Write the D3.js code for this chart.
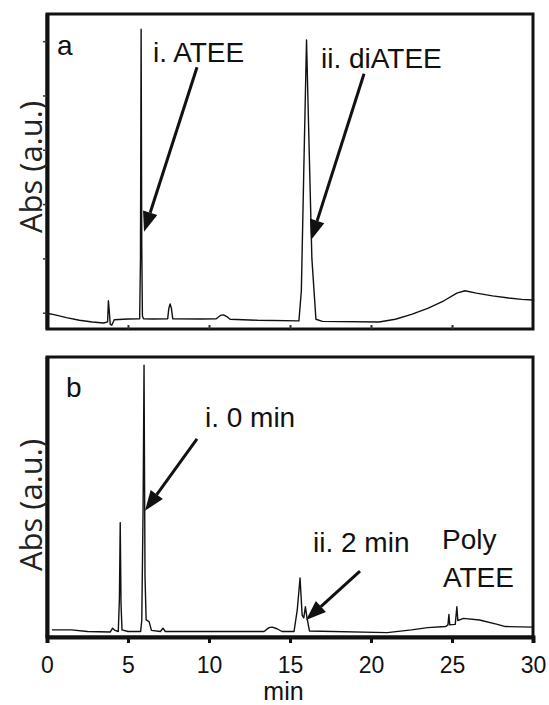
<!DOCTYPE html>
<html><head><meta charset="utf-8">
<script src="https://cdn.jsdelivr.net/npm/d3@7"></script>
<style>body{margin:0;background:#fff}</style>
</head><body>
<svg id="c" width="549" height="705"></svg>
<script>
// ---- data ----
const timeTicks = [0, 5, 10, 15, 20, 25, 30];
const timeTickLabels = ["0", "5", "10", "15", "20", "25", "30"];
const absTicksA = [0, 1, 2, 3, 4, 5];

// panel a trace (min, a.u.)
const traceA_time = [0,0.5,1.2,2.0,2.8,3.5,3.74,3.79,3.84,3.9,4.0,4.15,5.0,5.72,5.77,5.81,5.85,5.89,5.96,6.5,7.45,7.52,7.6,7.68,7.76,9.5,10.45,10.7,10.9,11.1,11.3,13.0,15.55,15.7,15.85,16.02,16.15,16.35,16.6,17.0,20.5,21.5,22.5,23.5,24.5,25.3,25.8,26.5,27.5,28.5,29.3,30];
const traceA_abs  = [-0.01,-0.04,-0.09,-0.14,-0.17,-0.19,-0.17,0.22,0.05,-0.21,-0.23,-0.13,-0.115,-0.11,1.0,5.22,1.2,-0.06,-0.11,-0.115,-0.11,0.08,0.16,0.08,-0.11,-0.115,-0.11,-0.05,-0.04,-0.07,-0.12,-0.14,-0.15,0.4,2.6,5.02,3.4,1.0,-0.12,-0.16,-0.17,-0.12,-0.03,0.08,0.22,0.36,0.405,0.36,0.31,0.27,0.245,0.235];

// panel b trace (min, a.u.)
const traceB_time = [0.3,1.5,2.5,3.9,4.05,4.2,4.4,4.47,4.52,4.57,4.63,5.0,5.78,5.85,5.93,5.99,6.05,6.12,6.3,6.45,7.0,7.16,7.3,13.4,13.7,13.9,14.2,14.5,15.25,15.45,15.62,15.75,15.85,15.95,16.05,16.2,21.0,22.5,23.5,24.6,24.75,24.81,24.86,25.2,25.3,25.36,25.7,26.7,27.8,28.3,30];
const traceB_abs  = [0.03,0.03,0.0,-0.01,0.06,0.02,0.0,0.6,1.98,0.5,0.03,0.0,0.0,0.2,2.2,4.85,1.0,0.21,0.18,0.02,0.0,0.06,0.0,0.0,0.07,0.08,0.05,0.0,0.0,0.4,0.975,0.3,0.25,0.45,0.25,0.01,-0.02,0.03,0.07,0.09,0.12,0.31,0.12,0.13,0.45,0.2,0.24,0.21,0.13,0.09,0.08];

// annotation texts and anchors (min, a.u.)
const labelsA_text = ["a", "i. ATEE", "ii. diATEE"];
const labelsA_t = [0.62, 6.54, 16.91];
const labelsA_v = [4.75, 4.62, 4.51];
const arrowsA = [[9.26, 4.52, 5.99, 1.49], [19.57, 4.40, 16.3, 1.34]];

const labelsB_text = ["b", "i. 0 min", "ii. 2 min", "Poly", "ATEE"];
const labelsB_t = [1.17, 9.75, 16.42, 24.38, 24.44];
const labelsB_v = [4.27, 3.72, 1.45, 1.50, 0.81];
const arrowsB = [[9.26, 3.51, 6.05, 2.2], [19.32, 1.10, 15.99, 0.21]];

// ---- drawing ----
const svg = d3.select("#c");
const x = d3.scaleLinear().domain([0, 30]).range([47, 533]);
const yA = d3.scaleLinear().domain([-0.3, 5.5]).range([329, 14]);
const yB = d3.scaleLinear().domain([-0.1, 5.0]).range([637, 357]);

const annFont = "'Liberation Sans', Arial, sans-serif";
const axFont = "'Open Sans', sans-serif";

function panel(y, times, vals, labT, labTT, labV, arrows) {
  const g = svg.append("g");
  const line = d3.line().x(d => x(d[0])).y(d => y(d[1]));
  g.append("path").datum(times.map((t, i) => [t, vals[i]]))
    .attr("d", line).attr("fill", "none").attr("stroke", "#111")
    .attr("stroke-width", 1.4).attr("stroke-linejoin", "round");
  const [y0, y1] = y.range();
  g.append("rect").attr("x", x(0)).attr("y", y1).attr("width", x(30) - x(0)).attr("height", y0 - y1)
    .attr("fill", "none").attr("stroke", "#111").attr("stroke-width", 3);
  g.append("line").attr("x1", x(0) + 0.5).attr("x2", x(0) + 0.5).attr("y1", y1).attr("y2", y0)
    .attr("stroke", "#111").attr("stroke-width", 4);
  labT.forEach((txt, i) => {
    g.append("text").attr("x", x(labTT[i])).attr("y", y(labV[i]))
      .attr("font-family", annFont).attr("font-size", 28).attr("fill", "#111").text(txt);
  });
  arrows.forEach(a => {
    const xs = x(a[0]), ys = y(a[1]), xe = x(a[2]), ye = y(a[3]);
    const ang = Math.atan2(ye - ys, xe - xs);
    const L = 20, W = 7.5;
    const bx = xe - L * Math.cos(ang), by = ye - L * Math.sin(ang);
    g.append("line").attr("x1", xs).attr("y1", ys).attr("x2", bx).attr("y2", by)
      .attr("stroke", "#111").attr("stroke-width", 3);
    const px = -Math.sin(ang) * W, py = Math.cos(ang) * W;
    g.append("path").attr("d", `M${xe},${ye}L${bx + px},${by + py}L${bx - px},${by - py}Z`).attr("fill", "#111");
  });
  return g;
}

panel(yA, traceA_time, traceA_abs, labelsA_text, labelsA_t, labelsA_v, arrowsA);
panel(yB, traceB_time, traceB_abs, labelsB_text, labelsB_t, labelsB_v, arrowsB);

// panel a axes: small left ticks, small inward bottom ticks
const axA = svg.append("g").attr("transform", `translate(${x(0)},0)`)
  .call(d3.axisLeft(yA).tickValues(absTicksA).tickSize(4).tickFormat(""));
axA.select(".domain").remove();
axA.selectAll(".tick line").attr("stroke", "#333").attr("stroke-width", 1.5);
const bxA = svg.append("g").attr("transform", `translate(0,${yA.range()[0]})`)
  .call(d3.axisBottom(x).tickValues(timeTicks.slice(1, -1)).tickSize(-4).tickFormat(""));
bxA.select(".domain").remove();
bxA.selectAll(".tick line").attr("stroke", "#333").attr("stroke-width", 2);

// panel b bottom axis with labels
const bxB = svg.append("g").attr("transform", `translate(0,${yB.range()[0]})`)
  .call(d3.axisBottom(x).tickValues(timeTicks).tickSize(6).tickFormat((d, i) => timeTickLabels[i]));
bxB.select(".domain").attr("stroke", "#111").attr("stroke-width", 4);
bxB.selectAll(".tick line").attr("stroke", "#111").attr("stroke-width", 3);
bxB.selectAll(".tick text").attr("font-family", annFont).attr("font-size", 23).attr("fill", "#111")
  .attr("dy", null).attr("y", 36);

// axis titles
svg.append("text").attr("x", x(14.6)).attr("y", 700).attr("text-anchor", "middle")
  .attr("font-family", annFont).attr("font-size", 25).attr("fill", "#111").text("min");
[167, 505].forEach(cy => {
  svg.append("text").attr("transform", `translate(42,${cy}) rotate(-90)`).attr("text-anchor", "middle")
    .attr("font-family", axFont).attr("font-size", 31).attr("fill", "#222").text("Abs (a.u.)");
});
</script>
</body></html>
